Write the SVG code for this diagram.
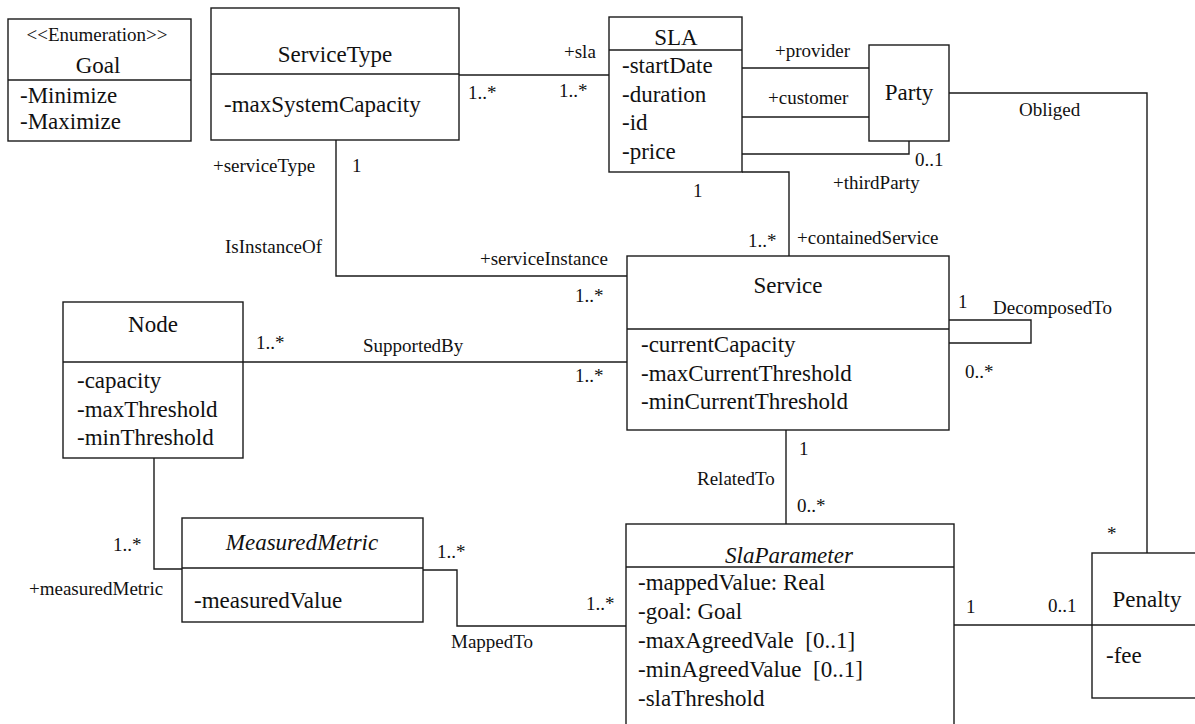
<svg xmlns="http://www.w3.org/2000/svg" width="1195" height="724" viewBox="0 0 1195 724">
<style>
.box{fill:#ffffff;stroke:#1a1a1a;stroke-width:1.4}
.div{stroke:#1a1a1a;stroke-width:1.4}
.c{fill:none;stroke:#1a1a1a;stroke-width:1.4}
text{font-family:"Liberation Serif","Times New Roman",serif;fill:#111}
.t{font-size:23px}
.l{font-size:19px}
.m{text-anchor:middle}
.i{font-style:italic}
</style>
<rect width="1195" height="724" fill="#ffffff"/>
<g id="connectors">
  <polyline class="c" points="459,75 609,75"/>
  <polyline class="c" points="742,68 869,68"/>
  <polyline class="c" points="742,117 869,117"/>
  <polyline class="c" points="742,154 909,154 909,141"/>
  <polyline class="c" points="742,172 789,172 789,256"/>
  <polyline class="c" points="336,140 336,276 630,276"/>
  <polyline class="c" points="243,362 627,362"/>
  <polyline class="c" points="949,320 1031,320 1031,343 949,343"/>
  <polyline class="c" points="949,93 1147,93 1147,553"/>
  <polyline class="c" points="786,430 786,524"/>
  <polyline class="c" points="154,458 154,569 182,569"/>
  <polyline class="c" points="423,570 457,570 457,626 626,626"/>
  <polyline class="c" points="954,625 1092,625"/>
  <text class="l" x="564" y="58">+sla</text>
  <text class="l" x="468" y="99">1..*</text>
  <text class="l" x="559" y="97">1..*</text>
  <text class="l" x="775" y="57">+provider</text>
  <text class="l" x="768" y="104">+customer</text>
  <text class="l" x="915" y="166">0..1</text>
  <text class="l" x="833" y="189">+thirdParty</text>
  <text class="l" x="693" y="197">1</text>
  <text class="l" x="748" y="247">1..*</text>
  <text class="l" x="797" y="244">+containedService</text>
  <text class="l" x="213" y="172">+serviceType</text>
  <text class="l" x="352" y="172">1</text>
  <text class="l" x="225" y="253">IsInstanceOf</text>
  <text class="l" x="480" y="265">+serviceInstance</text>
  <text class="l" x="575" y="302">1..*</text>
  <text class="l" x="256" y="349">1..*</text>
  <text class="l" x="363" y="352">SupportedBy</text>
  <text class="l" x="575" y="382">1..*</text>
  <text class="l" x="958" y="308">1</text>
  <text class="l" x="993" y="314">DecomposedTo</text>
  <text class="l" x="965" y="378">0..*</text>
  <text class="l" x="1019" y="116">Obliged</text>
  <text class="l" x="1107" y="540">*</text>
  <text class="l" x="799" y="455">1</text>
  <text class="l" x="697" y="485">RelatedTo</text>
  <text class="l" x="797" y="512">0..*</text>
  <text class="l" x="113" y="551">1..*</text>
  <text class="l" x="29" y="595">+measuredMetric</text>
  <text class="l" x="437" y="558">1..*</text>
  <text class="l" x="451" y="648">MappedTo</text>
  <text class="l" x="586" y="610">1..*</text>
  <text class="l" x="966" y="613">1</text>
  <text class="l" x="1048" y="612">0..1</text>
</g>
<g id="goal">
  <rect class="box" x="8" y="19" width="183" height="122"/>
  <line class="div" x1="8" y1="80" x2="191" y2="80"/>
  <text class="l m" x="97" y="41">&lt;&lt;Enumeration&gt;&gt;</text>
  <text class="t m" x="98" y="73">Goal</text>
  <text class="t" x="20" y="103">-Minimize</text>
  <text class="t" x="20" y="129">-Maximize</text>
</g>
<g id="servicetype">
  <rect class="box" x="211" y="8" width="248" height="132"/>
  <line class="div" x1="211" y1="74" x2="459" y2="74"/>
  <text class="t m" x="335" y="62">ServiceType</text>
  <text class="t" x="224" y="112">-maxSystemCapacity</text>
</g>
<g id="sla">
  <rect class="box" x="609" y="17" width="133" height="155"/>
  <line class="div" x1="609" y1="50" x2="742" y2="50"/>
  <text class="t m" x="676" y="45">SLA</text>
  <text class="t" x="622" y="73">-startDate</text>
  <text class="t" x="622" y="102">-duration</text>
  <text class="t" x="622" y="130">-id</text>
  <text class="t" x="622" y="159">-price</text>
</g>
<g id="party">
  <rect class="box" x="869" y="45" width="80" height="96"/>
  <text class="t m" x="909" y="100">Party</text>
</g>
<g id="service">
  <rect class="box" x="627" y="256" width="322" height="174"/>
  <line class="div" x1="627" y1="329" x2="949" y2="329"/>
  <text class="t m" x="788" y="293">Service</text>
  <text class="t" x="641" y="352">-currentCapacity</text>
  <text class="t" x="641" y="381">-maxCurrentThreshold</text>
  <text class="t" x="641" y="409">-minCurrentThreshold</text>
</g>
<g id="node">
  <rect class="box" x="63" y="302" width="180" height="156"/>
  <line class="div" x1="63" y1="362" x2="243" y2="362"/>
  <text class="t m" x="153" y="332">Node</text>
  <text class="t" x="77" y="388">-capacity</text>
  <text class="t" x="77" y="417">-maxThreshold</text>
  <text class="t" x="77" y="445">-minThreshold</text>
</g>
<g id="measuredmetric">
  <rect class="box" x="182" y="518" width="241" height="104"/>
  <line class="div" x1="182" y1="568" x2="423" y2="568"/>
  <text class="t m i" x="302" y="550">MeasuredMetric</text>
  <text class="t" x="194" y="608">-measuredValue</text>
</g>
<g id="slaparameter">
  <rect class="box" x="626" y="524" width="328" height="210"/>
  <line class="div" x1="626" y1="567" x2="954" y2="567"/>
  <text class="t m i" x="789" y="563">SlaParameter</text>
  <text class="t" x="638" y="590">-mappedValue: Real</text>
  <text class="t" x="638" y="619">-goal: Goal</text>
  <text class="t" x="638" y="648" xml:space="preserve">-maxAgreedVale  [0..1]</text>
  <text class="t" x="638" y="677" xml:space="preserve">-minAgreedValue  [0..1]</text>
  <text class="t" x="638" y="706">-slaThreshold</text>
</g>
<g id="penalty">
  <rect class="box" x="1092" y="553" width="110" height="145"/>
  <line class="div" x1="1092" y1="625" x2="1202" y2="625"/>
  <text class="t m" x="1147" y="607">Penalty</text>
  <text class="t" x="1106" y="663">-fee</text>
</g>
</svg>
